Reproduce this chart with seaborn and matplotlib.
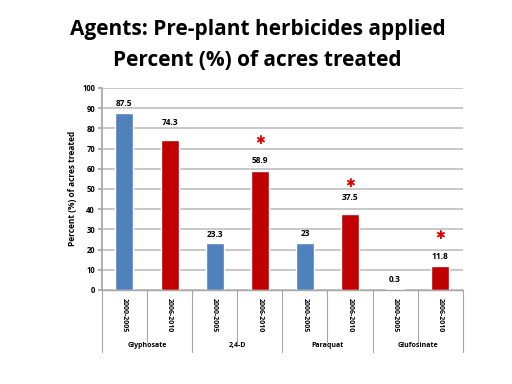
import pandas as pd
import matplotlib
matplotlib.use("Agg")
import matplotlib.pyplot as plt
import seaborn as sns

herbicides = ["Glyphosate", "2,4-D", "Paraquat", "Glufosinate"]
periods = ["2000-2005", "2006-2010"]
early_pct = [87.5, 23.3, 23, 0.3]
late_pct = [74.3, 58.9, 37.5, 11.8]
value_labels = ["87.5", "74.3", "23.3", "58.9", "23", "37.5", "0.3", "11.8"]
significant = [False, True, True, True]

# label gap above each bar (points), as placed on the original slide
label_gap = [4, 9, 3, 4, 4, 9, 4, 4]

rows = []
for i, h in enumerate(herbicides):
    rows.append({"herbicide": h, "period": periods[0], "pct": early_pct[i]})
    rows.append({"herbicide": h, "period": periods[1], "pct": late_pct[i]})
data = pd.DataFrame(rows)
data["slot"] = [f"{r.herbicide}|{r.period}" for r in data.itertuples()]

sns.set_theme(style="white")
plt.rcParams["font.family"] = ["Open Sans", "DejaVu Sans"]
plt.rcParams["text.color"] = "black"
plt.rcParams["xtick.color"] = "black"
plt.rcParams["ytick.color"] = "black"
plt.rcParams["axes.labelcolor"] = "black"

fig = plt.figure(figsize=(5.12, 3.84), dpi=100)
ax = fig.add_axes([0.199, 0.245, 0.705, 0.526])

sns.barplot(data=data, x="slot", y="pct", hue="period", dodge=False,
            palette={"2000-2005": "#4F81BD", "2006-2010": "#C00000"},
            saturation=1, width=0.4, legend=False, ax=ax)

ax.set_ylim(0, 100)
ax.set_yticks(range(0, 101, 10))
ax.set_xlim(-0.5, len(data) - 0.5)
ax.yaxis.grid(True, color="#BFBFBF", linewidth=1.2)
ax.set_axisbelow(True)
for s in ["top", "right", "bottom"]:
    ax.spines[s].set_visible(False)
ax.spines["left"].set_color("#A6A6A6")
ax.tick_params(axis="y", labelsize=5.5, length=3, color="#A6A6A6", labelcolor="black",
               left=True, pad=2)
for t in ax.get_yticklabels():
    t.set_fontweight("bold")
ax.set_ylabel("Percent (%) of acres treated", fontsize=6, fontweight="bold")
ax.set_xlabel("")

ax.set_xticks(range(len(data)))
ax.set_xticklabels(data["period"], rotation=270, fontsize=5, fontweight="bold")
ax.tick_params(axis="x", length=0, pad=6, labelcolor="black")

# value labels and significance marks
for i, v in enumerate(data["pct"]):
    ax.annotate(value_labels[i], (i, v), xytext=(0, label_gap[i]), textcoords="offset points",
                ha="center", va="bottom", fontsize=6, fontweight="bold")
for g, sig in enumerate(significant):
    if sig:
        ax.annotate("\u2731", (2 * g + 1, late_pct[g]), xytext=(0, 22), textcoords="offset points",
                    ha="center", va="center", fontsize=8.5, color="#E00000",
                    family="DejaVu Sans")

# category axis box
tr = ax.get_xaxis_transform()
ax.plot([-0.5, 7.5], [0, 0], transform=tr, color="#A6A6A6", lw=1, clip_on=False)
for k in range(9):
    x = k - 0.5
    low = -0.257 if k % 2 else -0.307
    ax.plot([x, x], [0, low], transform=tr, color="#A6A6A6", lw=0.8, clip_on=False)
for g, h in enumerate(herbicides):
    ax.text(2 * g + 0.5, -0.275, h, transform=tr, ha="center", va="center",
            fontsize=5, fontweight="bold")

fig.text(0.503, 0.922, "Agents: Pre-plant herbicides applied", ha="center", va="center",
         fontsize=15, fontweight="bold", color="black")
fig.text(0.503, 0.843, "Percent (%) of acres treated", ha="center", va="center",
         fontsize=15, fontweight="bold", color="black")

fig.savefig("out.png", dpi=100)
